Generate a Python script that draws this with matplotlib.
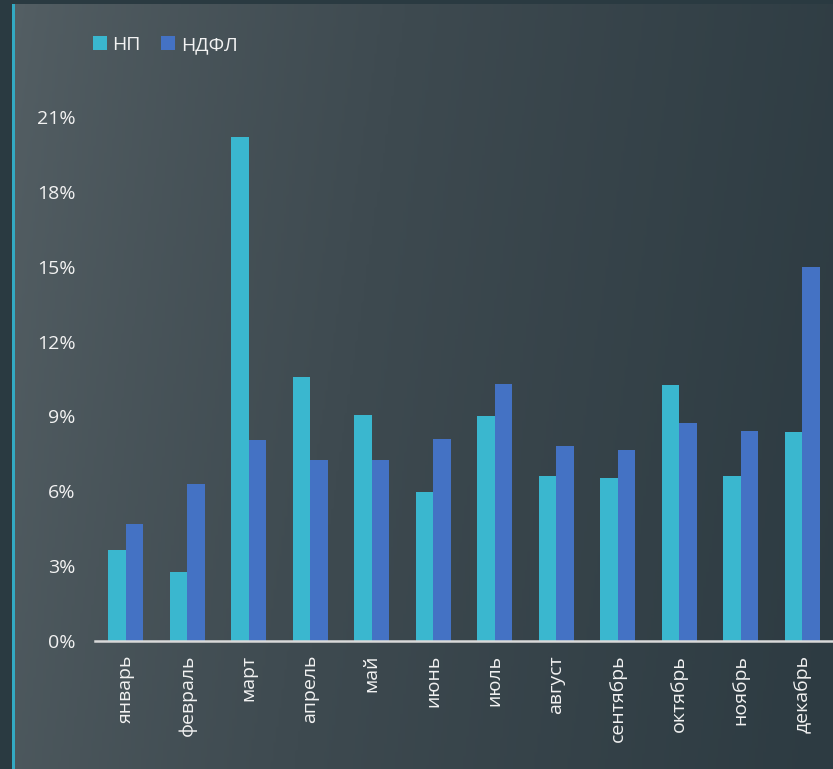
import matplotlib.pyplot as plt
import numpy as np
from matplotlib.colors import LinearSegmentedColormap

months = ['январь', 'февраль', 'март', 'апрель', 'май', 'июнь', 'июль',
          'август', 'сентябрь', 'октябрь', 'ноябрь', 'декабрь']
np_vals = [3.65, 2.77, 20.2, 10.6, 9.06, 5.97, 9.02, 6.61, 6.53, 10.26, 6.61, 8.38]
ndfl_vals = [4.69, 6.29, 8.06, 7.25, 7.25, 8.10, 10.3, 7.81, 7.65, 8.74, 8.42, 14.99]
yticks = [0, 3, 6, 9, 12, 15, 18, 21]

plt.rcParams['font.family'] = ['Open Sans', 'DejaVu Sans']

fig = plt.figure(figsize=(8.33, 7.69), dpi=100)
fig.patch.set_facecolor('#2A3A41')

# background panel with gradient
bg = fig.add_axes([14 / 833, 0, 1 - 14 / 833, 1 - 4 / 769])
gx = np.linspace(0, 1, 300)
gy = np.linspace(0, 1, 200)
X, Y = np.meshgrid(gx, gy)
T = np.clip(0.88 * X + 0.12 * Y, 0, 1) ** 0.8
cmap = LinearSegmentedColormap.from_list('bg', ['#545F64', '#3E4A50', '#2D3B42'])
bg.imshow(T, cmap=cmap, aspect='auto', extent=[0, 1, 0, 1], origin='upper')
bg.axis('off')

# cyan left stripe
fig.add_artist(plt.Rectangle((12 / 833, 0), 3 / 833, 1 - 4 / 769,
                             transform=fig.transFigure, color='#33A9C2', lw=0))

ax = fig.add_axes([95 / 833, 1 - 641 / 769, 738 / 833, (641 - 117) / 769])
ax.set_facecolor('none')
x = np.arange(len(months))
w = 0.285
ax.bar(x - w / 2, np_vals, w, color='#3AB7CF', label='НП')
ax.bar(x + w / 2, ndfl_vals, w, color='#4472C4', label='НДФЛ')

ax.set_xlim(-0.5, len(months) - 0.5)
ax.set_ylim(0, 21)
ax.set_yticks(yticks)
ax.set_yticklabels([f'{v}%' for v in yticks])
ax.set_xticks(x)
ax.set_xticklabels(months, rotation=90)
ax.tick_params(axis='y', length=0, pad=14, labelsize=14, labelcolor='#F2F2F2')
ax.tick_params(axis='x', length=0, pad=10, labelsize=14, labelcolor='#F2F2F2')
for s in ['top', 'right', 'left']:
    ax.spines[s].set_visible(False)
ax.spines['bottom'].set_color('#D9D9D9')
ax.spines['bottom'].set_linewidth(1.8)

leg = ax.legend(loc='center left', bbox_to_anchor=(93 / 833, 1 - 45 / 769),
                bbox_transform=fig.transFigure, ncol=2, frameon=False,
                borderpad=0, borderaxespad=0,
                handlelength=0.7, handleheight=0.7, handletextpad=0.3,
                columnspacing=1.05, fontsize=14, labelcolor='#F2F2F2')

fig.savefig('out.png', dpi=100, facecolor=fig.get_facecolor())
